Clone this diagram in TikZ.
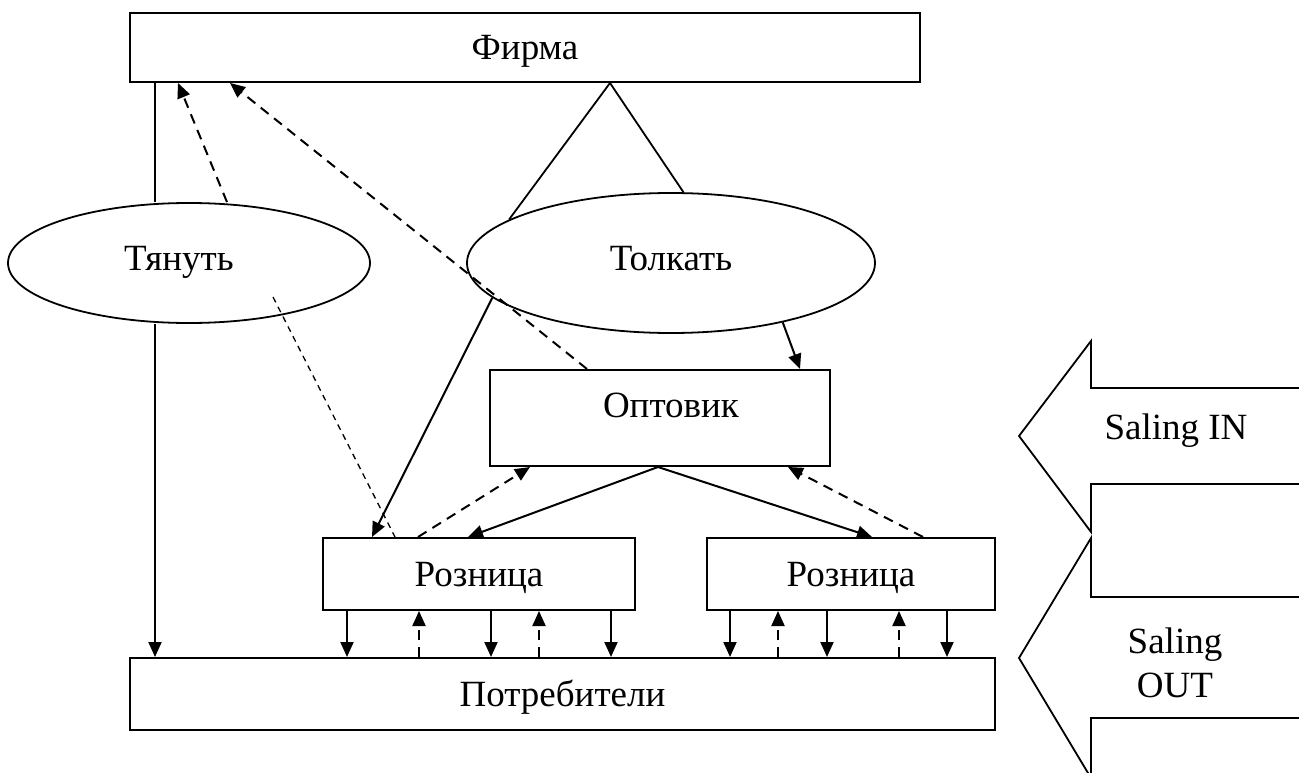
\documentclass[tikz,border=0pt]{standalone}
\usepackage{fontspec}
\setmainfont{Liberation Serif}
\usetikzlibrary{arrows.meta,shapes.geometric}
\begin{document}
\begin{tikzpicture}[x=1pt,y=-1pt,
  every node/.style={font=\fontsize{37}{44}\selectfont},
  one/.style={text height=24pt,text depth=0pt},
  box/.style={draw,line width=2pt,inner sep=0pt,rectangle,one},
  oval/.style={draw,line width=1.8pt,ellipse,inner sep=0pt,text height=24pt,text depth=9pt},
  arr/.style={line width=2pt,-{Triangle[length=15pt,width=13pt]}},
  darr/.style={line width=2pt,dash pattern=on 10pt off 7pt,-{Triangle[length=15pt,width=13pt]}},
  ln/.style={line width=1.8pt},
  thindash/.style={line width=1.3pt,dash pattern=on 6pt off 5pt},
  blockarrow/.style={line width=1.8pt,line join=miter},
]
\useasboundingbox (0,0) rectangle (1299,773);
\node[box,minimum width=790pt,minimum height=69pt] (firm) at (525,47.5) {Фирма};
\node[oval,minimum width=362pt,minimum height=120pt] (pull) at (189,263) {\hspace*{-20pt}Тянуть};
\node[oval,minimum width=408pt,minimum height=140pt] (push) at (671,263) {Толкать};
\node[box,minimum width=340pt,minimum height=96pt,text depth=26pt] (opt) at (660,418) {\hspace*{22pt}Оптовик};
\node[box,minimum width=312pt,minimum height=72pt] (r1) at (479,574) {Розница};
\node[box,minimum width=288pt,minimum height=72pt] (r2) at (851,574) {Розница};
\node[box,minimum width=865pt,minimum height=72pt] (cons) at (562.5,694) {Потребители};

% firm - pull
\draw[ln] (firm.south -| 155,0) -- (pull.north -| 155,0);
\draw[arr] (pull.south -| 155,0) -- (cons.north -| 155,0);
\draw[darr] (pull.north -| 227,0) -- (firm.south -| 178,0);
\draw[darr] (opt.north -| 587,0) -- (firm.south -| 230,0);
% triangle firm - push
\draw[ln] (firm.south -| 610,0) -- (push.165);
\draw[ln] (firm.south -| 610,0) -- (push.80);
% thin dashed from pull to r1
\coordinate (pt) at (273,297);
\draw[thindash] (pt) -- (r1.north -| 395,0);
% push arrows
\draw[arr] (push.191) -- (r1.north -| 372,0);
\draw[arr] (push.332) -- (opt.north -| 800,0);
% wholesaler to retailers
\draw[arr] (opt.south -| 658,0) -- (r1.north -| 468,0);
\draw[arr] (opt.south -| 658,0) -- (r2.north -| 872,0);
\draw[darr] (r1.north -| 418,0) -- (opt.south -| 530,0);
\draw[darr] (r2.north -| 923,0) -- (opt.south -| 788,0);
% retailers to consumers
\foreach \x in {347,491,611} \draw[arr] (r1.south -| \x,0) -- (cons.north -| \x,0);
\foreach \x in {730,827,947} \draw[arr] (r2.south -| \x,0) -- (cons.north -| \x,0);
\foreach \x in {419,539} \draw[darr] (cons.north -| \x,0) -- (r1.south -| \x,0);
\foreach \x in {778,899} \draw[darr] (cons.north -| \x,0) -- (r2.south -| \x,0);

% block arrows
\draw[blockarrow] (1310,388) -- (1091,388) -- (1091,341) -- (1019,436) -- (1091,532) -- (1091,484) -- (1310,484);
\node[one] (sin) at (1176,427) {Saling IN};
\draw[blockarrow] (1310,597) -- (1091,597) -- (1091,538) -- (1019,658) -- (1091,778) -- (1091,718) -- (1310,718);
\node[align=center] (sout) at (1175,663) {Saling\\OUT};
\end{tikzpicture}
\end{document}
